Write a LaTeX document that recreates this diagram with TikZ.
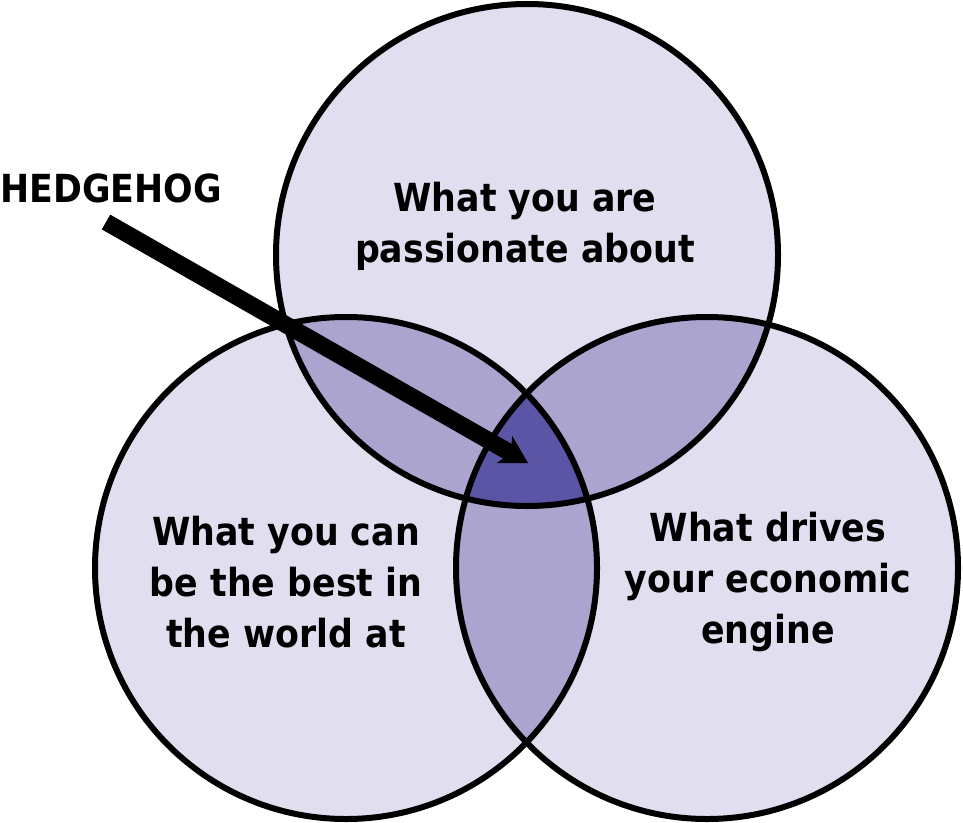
\documentclass[tikz,border=0pt]{standalone}
\usepackage{fontspec}
\setmainfont{DejaVu Sans}[FakeStretch=0.9]
\usepackage{tikz}
\usetikzlibrary{arrows.meta}
\definecolor{ring1}{RGB}{224,222,239}
\definecolor{ring2}{RGB}{170,164,206}
\definecolor{ring3}{RGB}{91,85,165}
\newcommand{\ringr}{5.02}
\newcommand{\filllens}[3]{\begin{scope}\clip (#1) circle (\ringr); \fill[#3] (#2) circle (\ringr);\end{scope}}
\tikzset{
  ringtext/.style={font=\bfseries\fontsize{22}{29}\selectfont,align=center,inner sep=0pt},
  ringline/.style={line width=0.12cm}
}

\begin{document}
\begin{tikzpicture}
\useasboundingbox (0,0) rectangle (19.26,16.44);
\coordinate (passion) at (10.54,11.34);
\coordinate (best) at (6.92,5.08);
\coordinate (engine) at (14.14,5.08);
% single rings
\foreach \c in {passion,best,engine}{
  \fill[ring1] (\c) circle (\ringr);
}
% pairwise lenses
\filllens{passion}{best}{ring2}
\filllens{passion}{engine}{ring2}
\filllens{best}{engine}{ring2}
% the core
\begin{scope}
\clip (passion) circle (\ringr);
\clip (best) circle (\ringr);
\fill[ring3] (engine) circle (\ringr);
\end{scope}
\foreach \c in {passion,best,engine}{
  \draw[ringline] (\c) circle (\ringr);
}
\node[ringtext] (passiontext) at (10.50,11.92) {What you are\\passionate about};
\node[ringtext] (besttext) at (5.72,4.80) {What you can\\be the best in\\the world at};
\node[ringtext] (enginetext) at (15.36,4.80) {What drives\\your economic\\engine};
\node[ringtext,anchor=west] (hedgehog) at (0,12.68) {HEDGEHOG};
\coordinate (hstart) at (2.12,12.0);
\coordinate (core) at (10.56,7.18);
\draw[line width=0.34cm,-{Stealth[length=0.54cm,width=0.62cm,inset=0.14cm,line width=1pt]}] (hstart) -- (core);
\end{tikzpicture}
\end{document}
